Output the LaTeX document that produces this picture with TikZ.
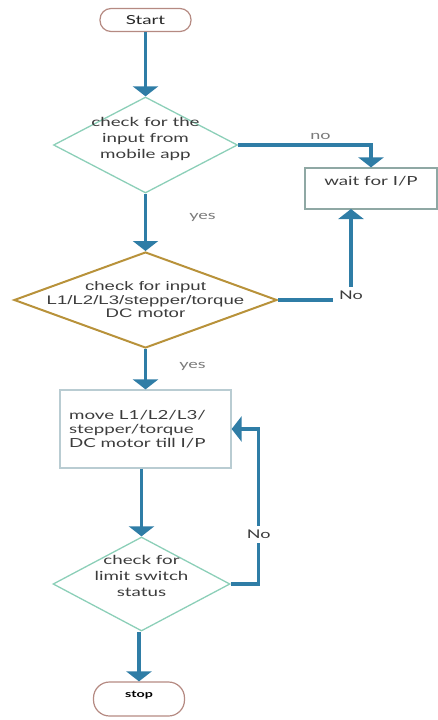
\documentclass[tikz,border=0pt]{standalone}
\usepackage{fontspec}
\setmainfont{Lato}
\newfontfamily\arialfont{Liberation Sans}
\usetikzlibrary{arrows.meta,shapes.geometric}
\definecolor{flowblue}{HTML}{2F7DA6}
\definecolor{mint}{HTML}{8CCFB8}
\definecolor{gold}{HTML}{B8923A}
\definecolor{rose}{HTML}{B58A82}
\definecolor{boxgray}{HTML}{8FA8A4}
\definecolor{lightbox}{HTML}{B9CCD2}
\definecolor{txtgray}{HTML}{3C3C3C}
\definecolor{labgray}{HTML}{7A7A7A}

\begin{document}
\begin{tikzpicture}[x=1pt, y=-1pt, flow/.style={draw=flowblue, line width=3.5pt, -{Triangle[width=25pt,length=10pt]}}, term node/.style={draw=rose, line width=1.2pt, rounded corners=11pt, minimum width=91pt, minimum height=23pt}, dec node/.style={diamond, draw=mint, line width=1.3pt, inner sep=0pt}, box node/.style={draw=boxgray, line width=1.2pt, minimum width=132pt, minimum height=41pt}, txt/.style={font=\fontsize{12.5}{16}\selectfont, text=txtgray, xscale=1.5, align=center, inner sep=0pt, anchor=center}, lab/.style={font=\fontsize{12}{14}\selectfont, text=labgray, xscale=1.5, inner sep=1pt}]

\useasboundingbox (0,0) rectangle (438,720);

\node[term node, label={[txt, text=black!85]center:Start}](1) at (145.5,20) {};
\node[dec node, minimum width=184pt, minimum height=96pt, label={[txt, yshift=6pt]center:check for the\\input from\\mobile app}](2) at (145.5,145) {};
\node[box node, label={[txt, yshift=7pt]center:wait for I/P}](3) at (371,188.5) {};
\node[dec node, draw=gold, line width=2pt, minimum width=263pt, minimum height=96pt, label={[txt, font=\arialfont\fontsize{12.4}{13.5}\selectfont]center:check for input\\L1/L2/L3/stepper/torque\\DC motor}](4) at (145.5,300) {};
\node[box node, draw=lightbox, minimum width=171pt, minimum height=78pt, label={[xshift=-8pt, txt, align=left, font=\fontsize{12.5}{14}\selectfont]center:move L1/L2/L3/\\stepper/torque\\DC motor till I/P}](5) at (145.5,429) {};
\node[dec node, minimum width=177pt, minimum height=94pt, label={[txt, yshift=8pt]center:check for\\limit switch\\status}](6) at (141.5,584) {};
\node[term node, minimum height=34pt, rounded corners=16pt, label={[txt, yshift=4pt, text=black, font=\bfseries\fontsize{9.5}{11}\selectfont]center:stop}](7) at (139,699) {};

\coordinate (3a) at (351,209);

\draw[flow] (1) to (2);
\draw[flow] (2.east) -| node[pos=.31, yshift=3pt, lab, above]{no} (3.north);
\draw[flow] (2) to node[pos=.5, xshift=57pt, yshift=5pt, lab]{yes} (4);
\draw[flow] (4.east) -| node[pos=.5, yshift=5pt, lab, text=txtgray, fill=white, inner sep=4pt]{No} (3a);
\draw[flow] (4) to node[pos=.5, xshift=47pt, yshift=3pt, lab]{yes} (5);
\draw[flow] (5.south -| 6.north) to (6.north);
\draw[flow] (6.east) -- ++(28,0) |- node[pos=.16, lab, text=txtgray, fill=white, inner sep=4pt]{No} (5.east);
\draw[flow] (6.south -| 7.north) to (7.north);

\end{tikzpicture}
\end{document}
